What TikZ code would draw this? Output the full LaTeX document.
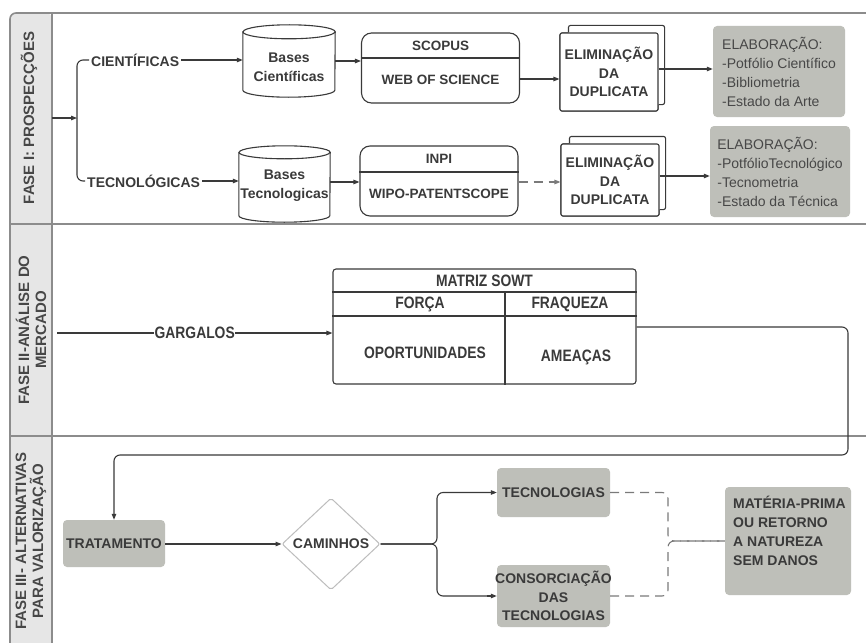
\documentclass[tikz,border=0pt]{standalone}
\usepackage{fontspec}
\setmainfont{Liberation Sans}
\newfontfamily\narrowsans[FakeStretch=0.84]{Liberation Sans}
\usetikzlibrary{shapes.geometric,arrows.meta}
\newcommand\setfs[2]{\fontsize{#1}{#2}\selectfont}

\definecolor{ink}{HTML}{3A3A3A}
\definecolor{lanegray}{HTML}{8C8C8C}
\definecolor{lanefill}{HTML}{E6E6E6}
\definecolor{boxgray}{RGB}{190,191,185}
\definecolor{softtext}{HTML}{474747}
\definecolor{dashgray}{HTML}{7A7A7A}
\definecolor{diamondgray}{HTML}{BDBDBD}

% cylinder outline around an empty node: #1 node, #2 x radius, #3 y radius
\newcommand\cylinderat[3]{%
  \draw[conn, fill=white] ([yshift=-#3]#1.north west) -- ([yshift=#3]#1.south west)
    arc[start angle=180, end angle=360, x radius=#2, y radius=#3]
    -- ([yshift=-#3]#1.north east)
    arc[start angle=0, end angle=180, x radius=#2, y radius=#3] -- cycle;
  \draw[conn] ([yshift=-#3]#1.north west)
    arc[start angle=180, end angle=360, x radius=#2, y radius=#3];
}
% second sheet behind a document box
\newcommand\backsheet[1]{%
  \draw[conn, rounded corners=2pt, fill=white]
    ([xshift=9pt]#1.north west) -- ([xshift=9pt,yshift=7pt]#1.north west)
    -- ([xshift=6pt,yshift=7pt]#1.north east)
    -- ([xshift=6pt,yshift=7pt]#1.south east) -- ([yshift=7pt]#1.south east);
}

\begin{document}
\begin{tikzpicture}[x=1pt, y=-1pt,
  lane/.style={draw=lanegray, line width=1.6pt},
  lanelabel/.style={rotate=90, align=center, text=softtext, inner sep=0pt,
    font=\bfseries\setfs{15}{17}},
  conn/.style={draw=ink, line width=1.1pt},
  arr/.style={conn, -{Triangle[length=6pt,width=4.5pt]}},
  lbl/.style={font=\bfseries\setfs{14}{19}, text=ink, inner sep=2pt, align=center},
  hdr/.style={font=\bfseries\setfs{13.5}{18}, text=ink, inner sep=1pt},
  narrowlbl/.style={font=\narrowsans\bfseries\setfs{16.5}{19}, text=ink, inner sep=1pt},
  dbbox/.style={conn, fill=white, rounded corners=10pt, minimum width=158, minimum height=70},
  docbox/.style={conn, fill=white, rounded corners=2pt, minimum width=98,
    font=\bfseries\setfs{14}{18.5}, text=ink, align=center},
  graybox/.style={fill=boxgray, rounded corners=4pt, inner sep=0pt},
  elabox/.style={graybox, font=\setfs{14}{19}, text=softtext, align=left},
  boldgray/.style={graybox, font=\bfseries\setfs{14}{18.5}, text=ink, align=center},
  dashconn/.style={draw=dashgray, line width=1.1pt, dash pattern=on 9pt off 6pt}
]
\useasboundingbox (0,0) rectangle (866,642);
\clip (0,0) rectangle (866,642);
\fill[white] (0,0) rectangle (866,642);

% ---------- swimlane frame ----------
\fill[lanefill, rounded corners=6pt] (10,13) rectangle (52,680);
\draw[lane, rounded corners=6pt] (900,13) -- (10,13) -- (10,680);
\draw[lane] (52,13) -- (52,680);
\draw[lane] (10,224) -- (900,224);
\draw[lane] (10,436) -- (900,436);

\node[lanelabel] (fase1) at (29,118) {FASE I: PROSPECÇÕES};
\node[lanelabel] (fase2) at (31,330) {FASE II-ANÁLISE DO\\MERCADO};
\node[lanelabel] (fase3) at (31,541) {FASE III- ALTERNATIVAS\\PARA VALORIZAÇÃO};

% ---------- FASE I ----------
\coordinate (col1) at (52,118);
\coordinate (split) at (77,118);
\node[lbl, anchor=west] (cient) at (89,60) {CIENTÍFICAS};
\node[lbl, anchor=west] (tecn) at (85,181) {TECNOLÓGICAS};
\draw[arr] (col1) -- (split);
\draw[conn, rounded corners=6pt] (cient.west) -| (split);
\draw[conn, rounded corners=6pt] (tecn.west) -| (split);

% databases
\node[minimum width=92, minimum height=72, inner sep=0] (bc) at (289,61) {};
\cylinderat{bc}{46pt}{7pt}
\node[lbl] (bctext) at ([yshift=-6.5pt]bc.center) {Bases\\Científicas};

\node[minimum width=91, minimum height=76, inner sep=0] (bt) at (284.5,184) {};
\cylinderat{bt}{45.5pt}{6.5pt}
\node[lbl, inner sep=0pt] (bttext) at ([yshift=-2pt]bt.center) {Bases\\Tecnologicas};

\draw[arr] (cient.east) -- (cient.east -| bc.west);
\draw[arr] (tecn.east) -- (tecn.east -| bt.west);

% search engines
\node[dbbox] (scop) at (440.5,68) {};
\draw[conn] (scop.west |- 0,58) -- (scop.east |- 0,58);
\node[hdr] (scoph) at (440.5,45.5) {SCOPUS};
\node[hdr] (scopw) at (440.5,80) {WEB OF SCIENCE};

\node[dbbox] (inpi) at (439,181) {};
\draw[conn] (inpi.west |- 0,172) -- (inpi.east |- 0,172);
\node[hdr] (inpih) at (439,159) {INPI};
\node[hdr] (inpiw) at (439,194) {WIPO-PATENTSCOPE};

\draw[arr] (bc.east |- 0,61) -- (scop.west |- 0,61);
\draw[arr] (bt.east |- 0,182) -- (inpi.west |- 0,182);

% duplicate removal
\node[docbox, minimum height=78] (elim1) at (609,72) {};
\backsheet{elim1}
\node[docbox, minimum height=78] (elim1f) at (609,72) {ELIMINAÇÃO\\DA\\DUPLICATA};

\node[docbox, minimum height=72] (elim2) at (610,180) {};
\backsheet{elim2}
\node[docbox, minimum height=72] (elim2f) at (610,180) {ELIMINAÇÃO\\DA\\DUPLICATA};

\draw[arr] (scop.east |- 0,79) -- (elim1f.west |- 0,79);
\draw[arr, dashconn] (inpi.east |- 0,182) -- (elim2f.west |- 0,182);

% results
\node[elabox, minimum width=132, minimum height=91] (ela1) at (779,71.5)
  {ELABORAÇÃO:\\-Potfólio Científico\\-Bibliometria\\-Estado da Arte};
\node[elabox, minimum width=140, minimum height=91] (ela2) at (780,171.5)
  {ELABORAÇÃO:\\-PotfólioTecnológico\\-Tecnometria\\-Estado da Técnica};

\draw[arr] (elim1f.east |- 0,69) -- (ela1.west |- 0,69);
\draw[arr] (elim2f.east |- 0,176) -- (ela2.west |- 0,176);

% ---------- FASE II ----------
\node[conn, rounded corners=3pt, minimum width=303, minimum height=115, inner sep=0] (swot) at (484.5,326.5) {};
\draw[conn] (swot.west |- 0,292) -- (swot.east |- 0,292);
\draw[conn] (swot.west |- 0,316) -- (swot.east |- 0,316);
\coordinate (swotmid) at (505,292);
\draw[conn] (swotmid) -- (swotmid |- swot.south);
\node[narrowlbl] (swoth) at (484.5,280.5) {MATRIZ SOWT};
\node[narrowlbl] (forca) at (420,304) {FORÇA};
\node[narrowlbl] (fraq) at (570,304) {FRAQUEZA};
\node[narrowlbl] (oport) at (425,353) {OPORTUNIDADES};
\node[narrowlbl] (ameac) at (576,357) {AMEAÇAS};

\coordinate (col2) at (57,333);
\draw[arr] (col2) -- node[narrowlbl, fill=white, inner sep=0.5pt] (garg) {GARGALOS} (col2 -| swot.west);

% ---------- FASE III ----------
\node[boldgray, minimum width=102, minimum height=47] (trat) at (114,543.5) {TRATAMENTO};
\coordinate (loopA) at (848,327);
\coordinate (loopB) at (848,455);
\draw[arr, rounded corners=6pt] (swot.east |- loopA) -- (loopA) -- (loopB) -| (trat.north);

\node[diamond, draw=diamondgray, line width=1pt, rounded corners=2pt, minimum width=98,
  minimum height=92, inner sep=0, font=\bfseries\setfs{14}{18}, text=ink] (cam) at (331,544) {CAMINHOS};
\draw[arr] (trat.east |- cam.west) -- (cam.west);

\node[boldgray, minimum width=113, minimum height=49] (tec) at (553.5,492.5) {TECNOLOGIAS};
\node[boldgray, minimum width=113, minimum height=62] (cons) at (553.5,596)
  {\makebox[108pt][c]{CONSORCIAÇÃO}\\DAS\\TECNOLOGIAS};

\coordinate (br) at (437,544);
\draw[conn, rounded corners=6pt] (cam.east) -- (br) |- ([xshift=-2pt]tec.west);
\draw[conn, rounded corners=6pt] (cam.east) -- (br) |- ([xshift=-2pt]cons.west);
\draw[arr] ([xshift=-10pt]tec.west) -- (tec.west);
\draw[arr] ([xshift=-10pt]cons.west) -- (cons.west);

\node[graybox, minimum width=126, minimum height=108] (mat) at (788,541) {};
\node[anchor=north west, inner sep=0pt, align=left, font=\bfseries\setfs{14}{19}, text=ink]
  (mattext) at (733,496) {MATÉRIA-PRIMA\\OU RETORNO\\A NATUREZA\\SEM DANOS};

\coordinate (joinT) at (668,492.5);
\coordinate (joinB) at (668,596);
\coordinate (joinM) at (668,541);
\draw[dashconn, rounded corners=6pt] (tec.east) -- (joinT) -- (joinM) -- (mat.west);
\draw[dashconn, rounded corners=6pt] (cons.east) -- (joinB) -- (joinM) -- (mat.west);
\end{tikzpicture}
\end{document}
